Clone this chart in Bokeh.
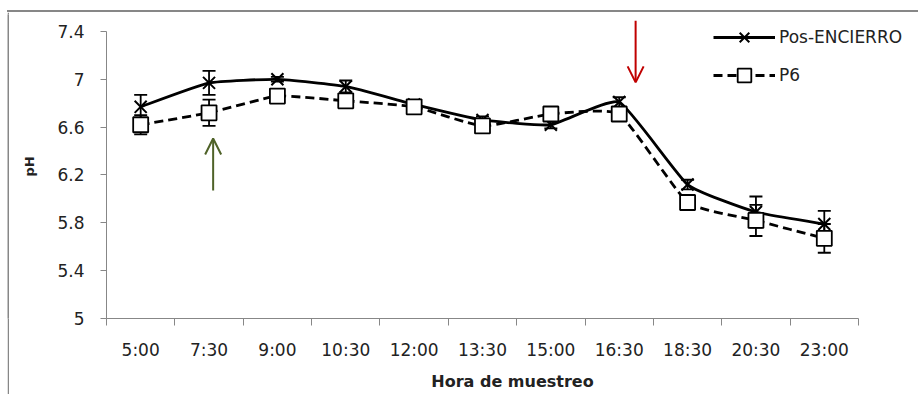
from bokeh.plotting import figure
from bokeh.layouts import column, row
from bokeh.models import (Range1d, FixedTicker, CustomJSTickFormatter, Whisker, TeeHead,
                          ColumnDataSource, Legend, LegendItem, Arrow, OpenHead, Spacer, Div)
from bokeh.embed import file_html
from bokeh.resources import INLINE

# Sampling times and mean pH values
times = ["5:00", "7:30", "9:00", "10:30", "12:00", "13:30", "15:00", "16:30", "18:30", "20:30", "23:00"]
pos_encierro = [6.77, 6.97, 7.00, 6.94, 6.79, 6.66, 6.62, 6.81, 6.12, 5.89, 5.79]
pos_err = [0.10, 0.10, 0.02, 0.05, 0.03, 0.03, 0.03, 0.04, 0.04, 0.13, 0.11]
p6 = [6.62, 6.72, 6.86, 6.82, 6.77, 6.61, 6.71, 6.71, 5.97, 5.82, 5.67]
p6_err = [0.08, 0.11, 0.02, 0.03, 0.03, 0.03, 0.03, 0.03, 0.03, 0.13, 0.12]
y_ticks = [5.0, 5.4, 5.8, 6.2, 6.6, 7.0, 7.4]

FONT = "DejaVu Sans"
AXIS_GREY = "#878787"
TEXT = "#222222"
SMOOTH = 0.07  # tangent scale for the smoothed lines

xs = list(range(len(times)))

p = figure(width=909, height=382, output_backend="svg", toolbar_location=None,
           x_range=Range1d(-0.5, 11.378), y_range=Range1d(5.0, 7.542), title=None,
           min_border_left=97, min_border_right=0, min_border_top=2, min_border_bottom=76,
           outline_line_color=None, background_fill_color="white", border_fill_color="white")
p.grid.visible = False

# x axis: labels centred on categories, tick marks between them
xa = p.xaxis[0]
xa.ticker = FixedTicker(ticks=xs, minor_ticks=[i - 0.5 for i in range(len(times) + 1)])
xa.formatter = CustomJSTickFormatter(args=dict(labels=times),
                                     code="return labels[Math.round(tick)] || '';")
xa.bounds = (-0.5, len(times) - 0.5)
xa.major_tick_out = 0
xa.major_tick_in = 0
xa.minor_tick_out = 7
xa.minor_tick_in = 0
xa.axis_line_color = AXIS_GREY
xa.minor_tick_line_color = AXIS_GREY
xa.major_label_text_font = FONT
xa.major_label_text_font_size = "17px"
xa.major_label_text_color = TEXT
xa.major_label_standoff = 14
xa.axis_label = "Hora de muestreo"
xa.axis_label_text_font = FONT
xa.axis_label_text_font_size = "16px"
xa.axis_label_text_font_style = "bold"
xa.axis_label_text_color = TEXT
xa.axis_label_standoff = 9

ya = p.yaxis[0]
ya.ticker = FixedTicker(ticks=y_ticks)
ya.formatter = CustomJSTickFormatter(code="return Number(tick.toFixed(1)).toString();")
ya.bounds = (5.0, 7.4)
ya.major_tick_out = 6
ya.major_tick_in = 0
ya.minor_tick_line_color = None
ya.axis_line_color = AXIS_GREY
ya.major_tick_line_color = AXIS_GREY
ya.major_label_text_font = FONT
ya.major_label_text_font_size = "17px"
ya.major_label_text_color = TEXT
ya.major_label_standoff = 16
ya.axis_label = "pH"
ya.axis_label_text_font = FONT
ya.axis_label_text_font_size = "13px"
ya.axis_label_text_font_style = "bold"
ya.axis_label_text_color = TEXT
ya.axis_label_standoff = 17


def smooth_segments(x, y, k=SMOOTH):
    """Cubic Bezier segments passing through every point."""
    n = len(x)
    seg = dict(x0=[], y0=[], x1=[], y1=[], cx0=[], cy0=[], cx1=[], cy1=[])
    for i in range(n - 1):
        xm, ym = (x[i - 1], y[i - 1]) if i > 0 else (x[i], y[i])
        xp, yp = (x[i + 2], y[i + 2]) if i + 2 < n else (x[i + 1], y[i + 1])
        seg["x0"].append(x[i]); seg["y0"].append(y[i])
        seg["x1"].append(x[i + 1]); seg["y1"].append(y[i + 1])
        seg["cx0"].append(x[i] + (x[i + 1] - xm) * k); seg["cy0"].append(y[i] + (y[i + 1] - ym) * k)
        seg["cx1"].append(x[i + 1] - (xp - x[i]) * k); seg["cy1"].append(y[i + 1] - (yp - y[i]) * k)
    return ColumnDataSource(seg)


# error bars
for vals, errs in ((pos_encierro, pos_err), (p6, p6_err)):
    src = ColumnDataSource(dict(x=xs, lo=[v - e for v, e in zip(vals, errs)],
                                hi=[v + e for v, e in zip(vals, errs)]))
    w = Whisker(source=src, base="x", lower="lo", upper="hi", dimension="height",
                line_color="black", line_width=1.8, level="underlay",
                upper_head=TeeHead(size=13, line_color="black", line_width=1.8),
                lower_head=TeeHead(size=13, line_color="black", line_width=1.8))
    p.add_layout(w)

# smoothed series lines
p.bezier(x0="x0", y0="y0", x1="x1", y1="y1", cx0="cx0", cy0="cy0", cx1="cx1", cy1="cy1",
         source=smooth_segments(xs, pos_encierro), line_color="black", line_width=2.8)
p.bezier(x0="x0", y0="y0", x1="x1", y1="y1", cx0="cx0", cy0="cy0", cx1="cx1", cy1="cy1",
         source=smooth_segments(xs, p6), line_color="black", line_width=2.8, line_dash="9 5")

# markers
r_pos = p.scatter(xs, pos_encierro, marker="x", size=17, line_color="black", line_width=2)
r_p6 = p.scatter(xs, p6, marker="square", size=15, fill_color="white", line_color="black",
                 line_width=1.8)

# legend swatches: lines placed far outside the visible range, used for styling only
leg_solid = p.line([-50, -49], [0, 0], line_color="black", line_width=2.8)
leg_dash = p.line([-50, -49], [0, 0], line_color="black", line_width=2.8, line_dash="9 5")

legend = Legend(items=[LegendItem(label="Pos-ENCIERRO", renderers=[leg_solid, r_pos]),
                       LegendItem(label="P6", renderers=[leg_dash, r_p6])],
                location=(607, 226), padding=0, margin=0, spacing=4,
                glyph_width=62, glyph_height=34, label_height=34, label_standoff=4,
                label_text_font=FONT, label_text_font_size="17px", label_text_color=TEXT,
                border_line_color=None, background_fill_alpha=0)
p.add_layout(legend)

# event arrows
p.add_layout(Arrow(x_start=1.06, y_start=6.07, x_end=1.06, y_end=6.505,
                   line_color="#4f6228", line_width=2,
                   end=OpenHead(size=16, line_color="#4f6228", line_width=2)))
p.add_layout(Arrow(x_start=7.24, y_start=7.49, x_end=7.24, y_end=6.974,
                   line_color="#c00000", line_width=2,
                   end=OpenHead(size=16, line_color="#c00000", line_width=2)))

# outer frame lines: a grey strip along the top and one down the left side
left_rule = figure(width=2, height=382, output_backend="svg", toolbar_location=None, title=None,
                   x_axis_type=None, y_axis_type=None, min_border=0,
                   outline_line_color=None, background_fill_color=AXIS_GREY,
                   border_fill_color=AXIS_GREY)
left_rule.grid.visible = False
top_rule = Div(text="", width=911, height=2, margin=0,
               styles={"background-color": AXIS_GREY, "height": "2px", "width": "911px"})

page = column(Spacer(height=10, width=918),
              row(Spacer(width=7, height=384),
                  column(top_rule, row(left_rule, p, spacing=0), spacing=0),
                  spacing=0),
              spacing=0)

open("out.html", "w").write(file_html(page, INLINE))
